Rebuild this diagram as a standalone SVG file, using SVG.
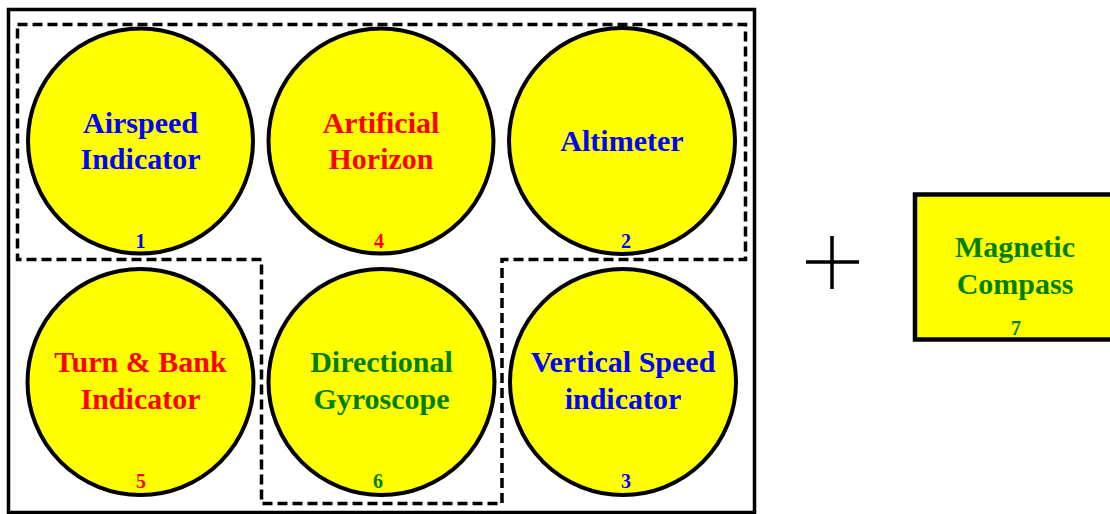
<svg xmlns="http://www.w3.org/2000/svg" width="1110" height="514" viewBox="0 0 1110 514">
<style>
.gauge{fill:#FFFF00;stroke:#000;stroke-width:4}
.lbl{font-family:"Liberation Serif","Times New Roman",serif;font-weight:bold;font-size:30px;text-anchor:middle}
.num{font-family:"Liberation Serif","Times New Roman",serif;font-weight:bold;font-size:20px;text-anchor:middle}
.blue{fill:#0000FF}
.red{fill:#FF0000}
.green{fill:#008000}
</style>
<rect width="1110" height="514" fill="#fff"/>
<g id="panel">
<rect x="8.5" y="9.5" width="746" height="503" fill="none" stroke="#000" stroke-width="3.5"/>
</g>
<g id="connectors">
<path d="M17.5,24.5 H745.5 V259.5 H502 V503.5 H261.5 V259.5 H17.5 Z" fill="none" stroke="#000" stroke-width="3.5" stroke-dasharray="10,5"/>
<path d="M832,236 V289 M806,262 H859" stroke="#000" stroke-width="3.5" fill="none"/>
</g>
<g id="node1">
<circle class="gauge" cx="140.5" cy="141" r="112.5"/>
<text class="lbl blue" x="140.5" y="133">Airspeed</text>
<text class="lbl blue" x="140.5" y="169">Indicator</text>
<text class="num blue" x="140.5" y="248">1</text>
</g>
<g id="node4">
<circle class="gauge" cx="381" cy="141" r="112.5"/>
<text class="lbl red" x="381" y="133">Artificial</text>
<text class="lbl red" x="381" y="169">Horizon</text>
<text class="num red" x="379" y="248">4</text>
</g>
<g id="node2">
<circle class="gauge" cx="622" cy="141" r="113"/>
<text class="lbl blue" x="622" y="151">Altimeter</text>
<text class="num blue" x="626" y="248">2</text>
</g>
<g id="node5">
<circle class="gauge" cx="140.5" cy="382" r="113"/>
<text class="lbl red" x="140.5" y="372">Turn &amp; Bank</text>
<text class="lbl red" x="140.5" y="409">Indicator</text>
<text class="num red" x="141" y="488">5</text>
</g>
<g id="node6">
<circle class="gauge" cx="381.5" cy="382" r="113"/>
<text class="lbl green" x="381.5" y="372">Directional</text>
<text class="lbl green" x="381.5" y="409">Gyroscope</text>
<text class="num green" x="378" y="488">6</text>
</g>
<g id="node3">
<circle class="gauge" cx="623" cy="382" r="113"/>
<text class="lbl blue" x="623" y="372">Vertical Speed</text>
<text class="lbl blue" x="623" y="409">indicator</text>
<text class="num blue" x="626" y="488">3</text>
</g>
<g id="node7">
<rect x="915" y="194.5" width="200" height="145" fill="#FFFF00" stroke="#000" stroke-width="4.5"/>
<text class="lbl green" x="1015" y="257">Magnetic</text>
<text class="lbl green" x="1015" y="294">Compass</text>
<text class="num green" x="1016" y="335">7</text>
</g>
</svg>
